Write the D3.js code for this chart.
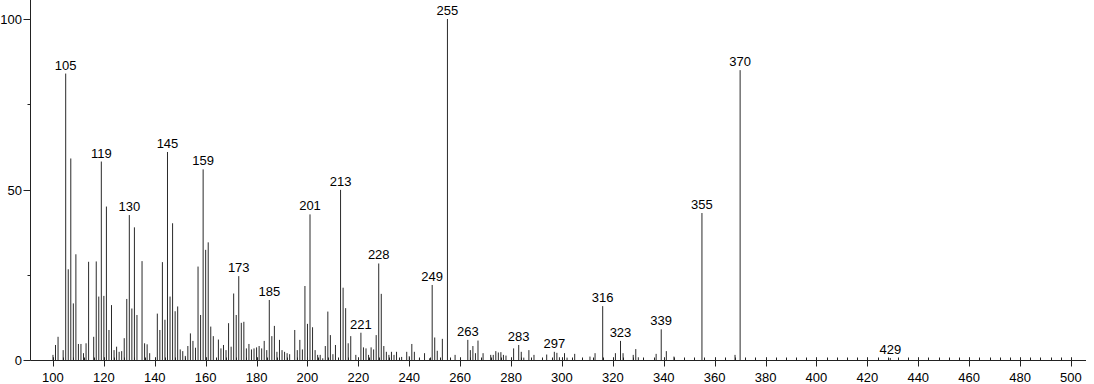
<!DOCTYPE html>
<html>
<head>
<meta charset="utf-8">
<script src="https://cdn.jsdelivr.net/npm/d3@7"></script>
<style>
  body { margin: 0; background: #fff; }
  text { font-family: "Liberation Sans", Arial, sans-serif; font-size: 13px; fill: #000; }
</style>
</head>
<body>
<svg id="vis-svg" width="1094" height="384"></svg>
<script>
// m/z values and relative intensities
var mz = [100,101,102,104,105,106,107,108,109,110,111,112,113,114,116,117,118,119,120,121,
  122,123,124,125,126,127,128,129,130,131,132,133,135,136,137,138,141,142,143,144,
  145,146,147,148,149,150,151,152,153,154,155,156,157,158,159,160,161,162,163,165,
  166,167,168,169,170,171,172,173,174,175,176,177,178,179,180,181,182,183,184,185,
  186,187,188,189,190,191,192,193,195,196,197,198,199,200,201,202,203,204,205,206,
  207,208,209,210,211,213,214,215,216,217,219,221,222,223,224,225,226,227,228,229,
  230,231,232,233,234,235,237,239,240,241,242,244,246,248,249,250,251,253,255,258,
  263,264,265,266,267,269,272,273,274,275,276,277,278,281,283,284,285,287,289,294,
  297,298,299,301,302,305,311,313,316,321,323,324,328,329,330,337,339,341,344,355,
  368,370,429];
var intensity = [1.5,4.4,6.8,2.9,84,26.6,59.1,16.6,31,4.7,4.7,2,4.9,28.8,6.8,28.9,18.6,58.2,18.8,45,
  8.8,16.1,2.9,3.9,2.4,2.6,6.4,17.9,42.5,15.1,38.9,13.2,29,4.9,4.6,2,13.6,8.8,28.7,11.8,
  61,18.6,40.1,14.3,15.7,3.1,2.6,1.2,4.1,7.8,5.6,3.6,27.4,13.2,55.9,32.3,34.5,9.8,7,6,
  3.4,4.4,2.9,10.8,3.9,19.5,13.2,24.6,10.9,11.2,3.4,4.7,3.1,3.4,3.7,4.1,3.4,5.6,2.9,17.6,
  7,10,2.4,5.9,2.9,2.4,2,1.7,8.8,2.9,5.9,3.1,21.7,10.6,42.7,9.6,2.9,1.5,1.5,0.5,
  4.1,14.2,7.3,1.7,4.4,49.9,21.2,15.2,4.9,7,1.5,8,3.7,3.4,1.5,3.7,3.1,7.3,28.3,19.4,
  4.1,2.4,1.5,2.4,1.5,2.4,0.9,2.4,1.1,4.7,2.4,0.5,2,0.5,22,6.6,2.7,6.2,100,1.5,
  5.9,2.9,4.1,2,5.7,2,1.5,1.5,2.6,2.2,2.3,1.5,1.3,3.4,4.4,2.4,0.7,2.9,1.5,1.6,
  2.4,2.1,0.8,2,0.7,1.8,1,2,15.8,2,5.6,2,1.5,3.2,0.8,1.8,9,2.6,1,43.1,
  1.5,85,0.6];
var labelled = [105,119,130,145,159,173,185,201,213,221,228,249,255,263,283,297,316,323,339,355,370,429];
var xMajor = d3.range(100, 501, 20);
var xMinor = d3.range(100, 501, 4);
var yMajor = [0, 50, 100];
var yMinor = [25, 75];

var peaks = mz.map(function(m, i) { return { mz: m, val: intensity[i] }; });

var svg = d3.select("#vis-svg");

var x = d3.scaleLinear().domain([100, 500]).range([52.97, 1070.97]);
var y = d3.scaleLinear().domain([0, 100]).range([360, 19]);

var axisY0 = 360.5;
var axisX0 = 30.5;

// peaks
svg.append("g")
  .selectAll("line")
  .data(peaks)
  .enter()
  .append("line")
  .attr("x1", function(d) { return x(d.mz); })
  .attr("x2", function(d) { return x(d.mz); })
  .attr("y1", axisY0)
  .attr("y2", function(d) { return y(d.val); })
  .attr("stroke", "#2a2a2a")
  .attr("stroke-width", 1);

// peak labels
svg.append("g")
  .selectAll("text")
  .data(peaks.filter(function(d) { return labelled.indexOf(d.mz) >= 0; }))
  .enter()
  .append("text")
  .attr("x", function(d) { return x(d.mz); })
  .attr("y", function(d) { return y(d.val) - 4; })
  .attr("text-anchor", "middle")
  .text(function(d) { return d.mz; });

// x axis
var xa = svg.append("g").attr("stroke", "#222").attr("stroke-width", 1);
xa.append("line")
  .attr("x1", axisX0).attr("x2", 1086)
  .attr("y1", axisY0).attr("y2", axisY0);
xa.selectAll(".minor")
  .data(xMinor)
  .enter()
  .append("line")
  .attr("x1", function(d) { return Math.round(x(d)) + 0.5; })
  .attr("x2", function(d) { return Math.round(x(d)) + 0.5; })
  .attr("y1", axisY0 - 3).attr("y2", axisY0);
xa.selectAll(".major")
  .data(xMajor)
  .enter()
  .append("line")
  .attr("x1", function(d) { return Math.round(x(d)) + 0.5; })
  .attr("x2", function(d) { return Math.round(x(d)) + 0.5; })
  .attr("y1", axisY0 - 3).attr("y2", axisY0 + 6);

svg.append("g")
  .selectAll("text")
  .data(xMajor)
  .enter()
  .append("text")
  .attr("x", function(d) { return x(d); })
  .attr("y", 382)
  .attr("text-anchor", "middle")
  .text(function(d) { return d; });

// y axis
var ya = svg.append("g").attr("stroke", "#222").attr("stroke-width", 1);
ya.append("line")
  .attr("x1", axisX0).attr("x2", axisX0)
  .attr("y1", 0).attr("y2", axisY0);
ya.selectAll(".major")
  .data(yMajor)
  .enter()
  .append("line")
  .attr("x1", axisX0 - 7).attr("x2", axisX0)
  .attr("y1", function(d) { return Math.round(y(d)) + 0.5; })
  .attr("y2", function(d) { return Math.round(y(d)) + 0.5; });
ya.selectAll(".minor")
  .data(yMinor)
  .enter()
  .append("line")
  .attr("x1", axisX0 - 3).attr("x2", axisX0)
  .attr("y1", function(d) { return Math.round(y(d)) + 0.5; })
  .attr("y2", function(d) { return Math.round(y(d)) + 0.5; });

svg.append("g")
  .selectAll("text")
  .data(yMajor)
  .enter()
  .append("text")
  .attr("x", 22)
  .attr("y", function(d) { return y(d) + 5; })
  .attr("text-anchor", "end")
  .text(function(d) { return d; });
</script>
</body>
</html>
